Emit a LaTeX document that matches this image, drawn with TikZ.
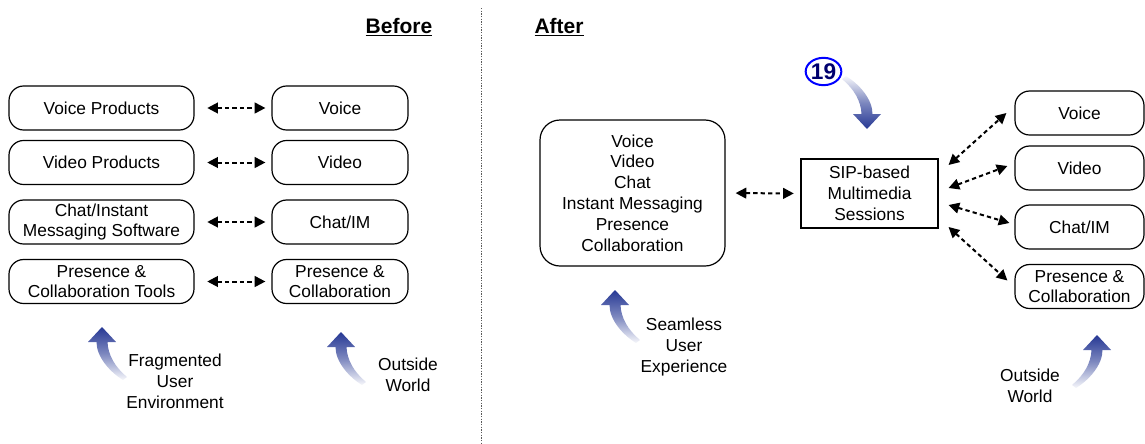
\documentclass[tikz,border=0pt]{standalone}
\usepackage{fontspec}
\setmainfont{Liberation Sans}
\usetikzlibrary{arrows.meta,calc,shapes.geometric}

\definecolor{swooshblue}{RGB}{38,56,148}
\definecolor{badgeblue}{RGB}{0,0,255}
\definecolor{badgetext}{RGB}{0,0,110}

\tikzset{
  % curved, fading "swoosh" arrow; tip at the origin, tail below right
  swoosh shading/.style={top color=swooshblue, bottom color=swooshblue!4, middle color=swooshblue!60},
  swoosh/.pic={
    \shade[swoosh shading] (0,0) -- (14,15) -- (5.5,15)
      .. controls (6,28) and (13,40) .. (25,50) -- (21,53)
      .. controls (8,45) and (-5.5,30) .. (-5.5,15) -- (-14,15) -- cycle;
  }
}

\begin{document}
\begin{tikzpicture}[x=0.75pt,y=-0.75pt,
  every node/.style={font=\fontsize{13}{15.6}\selectfont, align=center},
  pill/.style={draw, line width=0.9pt, rounded corners=11pt, inner sep=1pt, minimum height=33pt},
  leftpill/.style={pill, minimum width=138.75pt},
  rightpill/.style={pill, minimum width=102pt},
  farpill/.style={pill, minimum width=96.75pt},
  title/.style={font=\bfseries\fontsize{15.75}{18}\selectfont},
  darr/.style={{Triangle[length=8pt,width=8pt]}-{Triangle[length=8pt,width=8pt]},
               line width=1.5pt, dash pattern=on 3.2pt off 2.4pt},
  sepline/.style={line width=0.6pt, gray!70!black, dash pattern=on 1pt off 1pt}
]
\useasboundingbox (0,0) rectangle (1145,443);

% separator between the two halves
\draw[sepline] (481,8) -- (481,443);

% ---------- Before ----------
\node[title] (before) at (399,27) {\underline{Before}};

\node[leftpill] (lvoice) at (101.5,108)   {Voice Products};
\node[leftpill] (lvideo) at (101.5,162.5) {Video Products};
\node[leftpill] (lchat)  at (101.5,222)   {Chat/Instant\\Messaging Software};
\node[leftpill] (lpres)  at (101.5,281.5) {Presence \&\\Collaboration Tools};

\node[rightpill] (ovoice) at (340,108)   {Voice};
\node[rightpill] (ovideo) at (340,162.5) {Video};
\node[rightpill] (ochat)  at (340,222)   {Chat/IM};
\node[rightpill] (opres)  at (340,281.5) {Presence \&\\Collaboration};

\foreach \a/\b in {lvoice/ovoice, lvideo/ovideo, lchat/ochat, lpres/opres}
  \draw[darr, shorten <=9.5pt, shorten >=4.5pt] (\a.east) -- (\b.west);

\pic at (102,327) {swoosh};
\node (frag) at (175,381) {Fragmented\\User\\Environment};

\pic at (341,332) {swoosh};
\node (outl) at (408,374.5) {Outside\\World};

% ---------- After ----------
\node[title] (after) at (559,27) {\underline{After}};

\node[draw, line width=0.9pt, rounded corners=15pt, minimum width=138.75pt, minimum height=109.5pt]
  (media) at (632.5,193) {Voice\\Video\\Chat\\Instant Messaging\\Presence\\Collaboration};

\node[draw, line width=0.8pt, minimum width=102.75pt, minimum height=51.75pt, inner sep=1pt]
  (sip) at (869.5,193.5) {SIP-based\\Multimedia\\Sessions};

\draw[darr, shorten <=7.5pt, shorten >=5pt] (media.east) -- (sip.west);

\node[farpill] (rvoice) at (1079.5,113)   {Voice};
\node[farpill] (rvideo) at (1079.5,168)   {Video};
\node[farpill] (rchat)  at (1079.5,227)   {Chat/IM};
\node[farpill] (rpres)  at (1079.5,286.5) {Presence \&\\Collaboration};

\draw[darr] ($(sip.east)+(10,-28.5)$) -- ($(rvoice.west)+(-8,0)$);
\draw[darr] ($(sip.east)+(10,-5.5)$)  -- ($(rvideo.west)+(-7,-2)$);
\draw[darr] ($(sip.east)+(10,11.5)$)  -- ($(rchat.west)+(-5,-4)$);
\draw[darr] ($(sip.east)+(10,33.5)$)  -- ($(rpres.west)+(-7,-6)$);

% numbered marker with its arrow pointing at the session box
\node[ellipse, draw=badgeblue, line width=1.5pt, minimum width=23pt, minimum height=20.5pt,
      inner sep=0pt, text=badgetext, font=\bfseries\fontsize{17}{17}\selectfont]
  (badge) at (823.5,71.5) {19};
\pic[rotate=180, swoosh shading/.style={top color=swooshblue!4, bottom color=swooshblue, middle color=swooshblue!60}]
  at (867,129) {swoosh};

\pic at (615,290) {swoosh};
\node (seam) at (684,347) {Seamless\\User\\Experience};

\pic[xscale=-1] at (1097,335) {swoosh};
\node (outr) at (1030,386) {Outside\\World};

\end{tikzpicture}
\end{document}
